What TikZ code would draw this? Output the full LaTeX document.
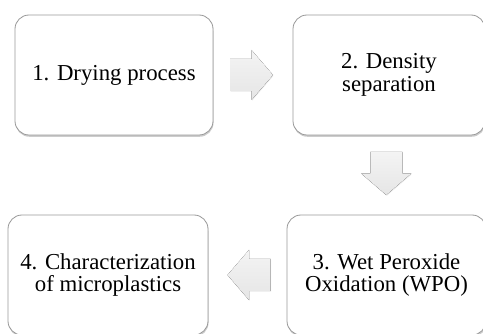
\documentclass[tikz,border=0pt]{standalone}
\usepackage{fontspec}
\setmainfont{Liberation Serif}
\usetikzlibrary{calc,shadows}

\newcommand{\stepArrow}{%
  \fill[arrowfill] (-21.5,-16)--(0,-16)--(0,-25)--(21.5,0)--(0,25)--(0,16)--(-21.5,16)--cycle;}

\begin{document}
\begin{tikzpicture}[x=1pt,y=-1pt,
    stepbox/.style={draw=gray!80,line width=0.8pt,fill=white,rounded corners=14pt,
      minimum height=120pt,align=center,inner sep=2pt,
      font=\fontsize{22.8}{22.5}\selectfont,
      drop shadow={opacity=0.4,shadow xshift=0.5pt,shadow yshift=-1.8pt}},
    arrowfill/.style={top color=gray!9,bottom color=gray!20,
      drop shadow={opacity=0.12,shadow xshift=0.5pt,shadow yshift=-1pt}}]
                \useasboundingbox (0,0) rectangle (483,334);
                \clip (0,0) rectangle (483,334);
                \node[stepbox,minimum width=198pt] (dry) at (114,75) {1. Drying process};
                \node[stepbox,minimum width=192pt] (dens) at (389,75) {2. Density\\separation};
                \node[stepbox,minimum width=199pt] (wpo) at (386.5,275) {3. Wet Peroxide\\Oxidation (WPO)};
                \node[stepbox,minimum width=200pt] (chara) at (108,275) {4. Characterization\\of microplastics};
                % block arrows between the steps
                \coordinate (a12) at ($(dry.east)!0.5!(dens.west)+(-1.5,0)$);
                \coordinate (a23) at ($(dens.south)!0.5!(wpo.north)+(-1.5,-1.5)$);
                \coordinate (a34) at ($(wpo.west)!0.5!(chara.east)+(1.5,0)$);
                \foreach \p/\r in {a12/0,a23/-90,a34/180}{
                    \begin{scope}[shift={(\p)},rotate=\r]
                        \stepArrow
                    \end{scope}
                }
            \end{tikzpicture}
\end{document}
